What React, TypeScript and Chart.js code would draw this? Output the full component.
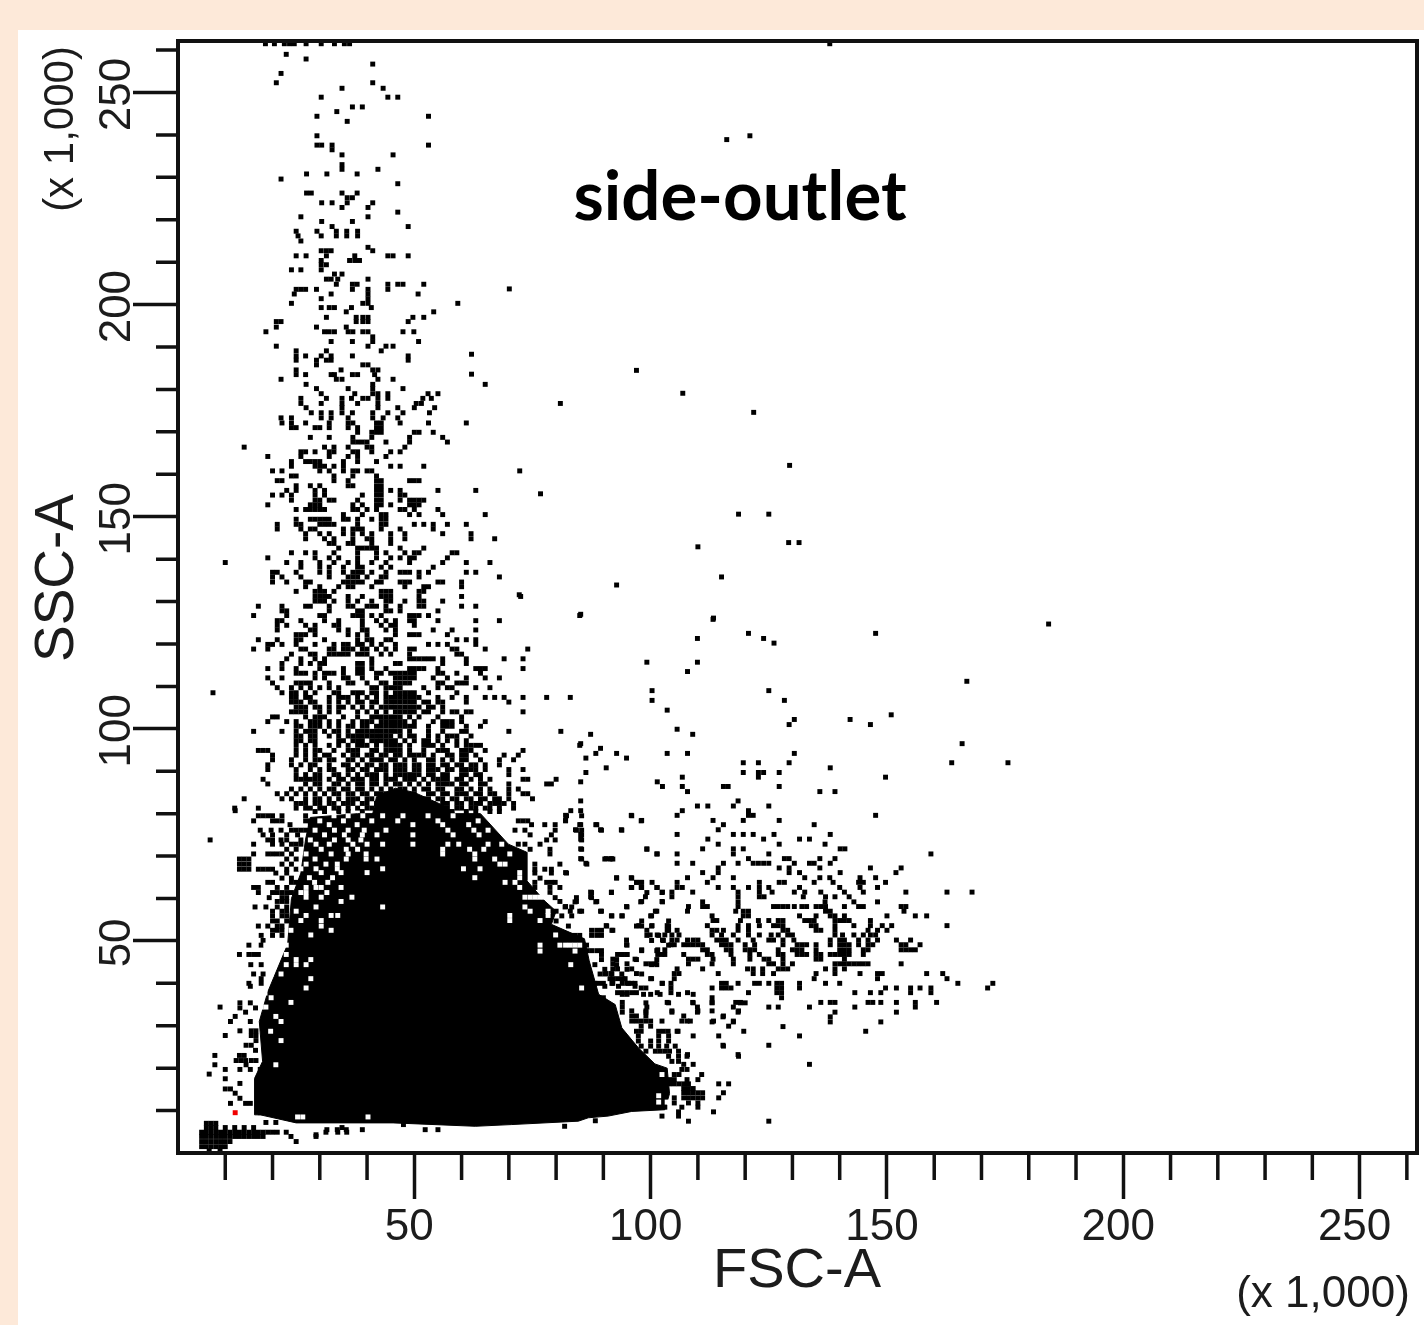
import React, { useRef, useEffect } from "react";
import { Chart, registerables } from "chart.js";

Chart.register(...registerables);

// FSC-A / SSC-A values in thousands
const axisMax = 262.144;
const majorTicks = [50, 100, 150, 200, 250];
const minorTicks = [10, 20, 30, 40, 60, 70, 80, 90, 110, 120, 130, 140, 160, 170, 180, 190, 210, 220, 230, 240, 260];

// outline of the saturated part of the main population [fsc, ssc]
const massOutline = [
  [16.2, 9], [16.2, 17.6], [17.9, 21.6], [17.2, 31], [19, 38], [23.2, 49.2], [24, 60], [26, 66],
  [27, 74], [28, 79.1], [38, 80], [64, 80], [69.9, 72.8], [73.8, 70.9], [73.8, 64.2], [77.6, 59.4], [80, 57],
  [79, 53.9], [86, 50.5], [87, 45.3], [89, 37.4], [92.5, 35], [93.9, 29.5], [97.4, 24.8], [100.9, 21], [103.5, 20], [104, 14],
  [103, 10.2], [96, 9.8], [91, 8.7], [86.8, 8.3], [84.7, 7.5], [70.5, 6.7], [62.9, 6.3], [45.5, 7.1], [25, 7.1], [17.4, 9],
  [16.2, 9],
];
const coreOutline = [
  [41, 79], [42, 84], [46, 86], [50, 85], [56, 82], [60, 79], [41, 79],
];

// rows of events: [ssc, fsc, fsc, ...]
const topPlume = [
  [261.5, 18.5, 20.4, 22.5, 23.6, 24.6, 27.1, 30.3, 33.1, 35.2, 36.3, 137.9],
  [259, 22.9], [257.9, 27.1], [256.7, 41.2], [254.5, 21.8], [252.3, 20.8, 41.2], [251, 34.7, 43.4],
  [248.9, 30.3, 44.4, 46.5], [246.6, 36.9, 39], [245.5, 33.6], [244.4, 29.4, 53], [243.2, 35.8],
  [239.8, 29.4, 121], [238.9, 116.1], [237.6, 29.4, 30.4, 32.6, 53], [236.5, 32.6], [235.3, 34.7, 45.5], [233, 34.7],
  [231.9, 34.7, 42.3], [230.8, 27.2, 31.5, 37.9], [229.6, 21.8], [228.5, 46.5], [226.3, 27.2, 28.2, 34.7, 37.9],
  [225.2, 35.8, 36.9], [224, 30.4, 32.6, 35.8, 41.2], [222.9, 34.7, 40.2], [221.8, 46.5], [220.7, 26, 40.2],
  [219.6, 30.4, 36.9], [218.4, 32.6, 48.7], [217.3, 25, 29.4, 33.5, 35.7, 38], [216.2, 25.4, 30.3, 33.5, 35.7, 38],
  [215, 26], [213.5, 40.2], [212.7, 30.3, 31.4, 32.4, 41.2], [211.5, 25, 27.1, 31.4, 37.4, 44.4, 45.5, 48.7],
  [210.4, 30.3, 36.3, 37.4, 38.4], [209.4, 30.3, 31.4], [208.2, 24, 26, 30.3], [207.2, 33.1, 34.7],
  [206, 31.4, 32.4, 33.8, 40.2], [204.8, 33.5, 36.9, 37.9, 44.4, 46.5, 47.6, 52], [203.7, 70.1],
  [203.6, 25, 26, 27, 29.3, 36.9, 40.2, 44.4], [202.5, 24.6, 32.4, 40.2, 50.8], [201.4, 30.3, 40.2],
  [200.3, 24, 39.1, 40.2, 59.2], [199.3, 30.3, 32, 33.1, 36.7, 40.9], [198.3, 35.6, 54.1],
  [197, 31.4, 37.7, 39.1, 40.2, 49.7, 52], [196, 20.8, 21.8, 37.7, 39.1, 40.2, 48.7], [194.7, 20.8, 29.3, 35.6],
  [193.6, 18.6, 31, 32, 33.1, 36, 37, 39.1, 40.2, 47.6, 49.9], [192.4, 41.2], [191.3, 32.4, 36.9, 41.2, 50.9],
  [190.2, 20.8, 40.2, 44, 45.5], [189.1, 25, 31.4, 43], [188.3, 62.1], [187.9, 25, 27, 30.3, 32.4, 36.9, 48.7],
  [186.9, 25, 29.3, 31.4, 32.4, 48.7], [185.8, 29.3, 39.1, 40.2], [184.6, 25, 34.5, 41.2, 42.3], [184.5, 97],
  [183.6, 62.1], [183.5, 25, 27, 32.4, 33.1, 36.9, 38, 41.6], [182.4, 21.8, 33.5, 34.7, 42.3, 45.5], [181.2, 27.1, 41.2, 65],
  [180.2, 29.3, 36, 41.2, 47.6], [179.1, 106.8], [179, 30.3, 37.4, 41.2, 42.3, 44.4, 52.9, 55],
  [177.9, 26, 31.4, 34.7, 36.7, 39.1, 40.2, 42.3, 44.4, 51.8, 53.6], [176.7, 26, 30.3, 34.7, 38, 42.3, 50.4, 51.5, 80.9],
  [175.7, 27.1, 34.7, 42.3, 46.5, 50, 54.3], [174.6, 121.8], [174.5, 28.2, 30.3, 32.4, 34.7, 36.9, 41.2, 44.4, 47.6, 53.2],
  [173.3, 21.8, 24, 30.3, 32.4, 36, 41.2, 43.4, 46.5],
];

const midPlume = [
  [172.1, 22, 24, 27, 32, 36, 37, 42, 43, 47, 53, 61], [171, 24, 25, 29, 30, 32, 36, 38, 42, 43], [169.9, 38, 41, 42, 43, 50, 51, 54],
  [168.7, 28, 32, 37, 41, 49, 56], [167.6, 37, 38, 39, 40, 44, 49, 57], [166.4, 14, 31, 33, 36, 40, 41, 48],
  [165.3, 26, 27, 29, 32, 33, 37, 38, 41, 45, 47], [164.2, 19, 26, 32, 36, 38, 44], [163, 24, 27, 28, 29, 30, 35, 38, 42],
  [162.1, 129.4], [161.9, 24, 29, 30, 31, 33, 35, 45, 47, 52], [160.8, 20, 22, 30, 32, 35, 37, 38, 40, 41, 72.3], [159.6, 24, 25, 33, 37, 42],
  [158.5, 21, 22, 33, 36, 42, 43, 49, 50, 51], [157.3, 25, 28, 30, 36, 37, 42, 43], [156.2, 23, 25, 29, 31, 42, 43, 45, 47, 55, 63],
  [155.4, 76.7], [155.1, 20, 22, 24, 29, 31, 39, 42, 43, 47, 48], [153.9, 24, 29, 30, 32, 33, 38, 42, 43, 47, 49, 50, 51, 52],
  [152.8, 19, 28, 29, 30, 37, 39, 42, 43, 45, 49, 50, 51], [151.7, 25, 27, 28, 29, 30, 31, 37, 38, 40, 42, 47, 48, 50, 55],
  [150.6, 118.6, 125], [150.5, 35, 39, 43, 44, 49, 51, 56, 65], [149.4, 25, 28, 29, 30, 31, 32, 35, 36, 38, 41, 43, 44],
  [148.2, 21, 25, 26, 30, 31, 32, 33, 38, 43, 44, 50, 52, 54, 57, 61], [147.1, 21, 26, 28, 29, 35, 37, 38, 39, 43, 47, 54],
  [146, 27, 30, 32, 35, 37, 39, 41, 45, 48, 56, 62], [144.8, 27, 31, 33, 37, 40, 41, 45, 48, 62, 67], [143.9, 129.2, 131.4],
  [143.7, 32, 33, 36, 37, 41, 45], [142.9, 110], [142.6, 34, 38, 39, 40, 41, 42, 47, 52], [141.5, 24, 27, 29, 33, 38, 42, 44, 48, 50, 51, 58, 59],
  [140.3, 19, 29, 32, 34, 38, 42, 45, 47, 49, 50, 57], [139.2, 10, 23, 26, 30, 33, 36, 38, 41, 44, 49, 56, 61, 66],
  [138.1, 26, 30, 32, 35, 38, 39, 43, 45, 54], [136.9, 20, 21, 25, 30, 32, 35, 37, 38, 39, 41, 44, 47, 48, 49, 51, 53, 61, 63],
  [135.8, 20, 22, 26, 32, 36, 37, 38, 40, 43, 44, 51, 68, 115], [134.6, 20, 23, 27, 28, 35, 36, 37, 38, 39, 42, 43, 47, 48, 49, 55, 56, 60],
  [133.9, 92.8], [133.5, 27, 30, 34, 36, 37, 41, 48, 52, 53, 60], [132.4, 25, 29, 30, 31, 33, 43, 44, 45, 51, 52],
  [131.6, 72.2], [131.2, 29, 30, 31, 32, 36, 39, 43, 44, 45, 51, 60, 72.5], [130.1, 29, 30, 31, 33, 36, 38, 41, 44, 45, 48, 51, 52, 56],
  [128.9, 17, 22, 27, 28, 32, 36, 37, 40, 41, 42, 44, 47, 51, 52, 60, 63], [127.8, 22, 23, 32, 38, 39, 44, 45, 47, 55],
  [127, 85.2], [126.7, 16, 23, 30, 31, 37, 38, 39, 41, 43, 49, 50, 51, 53, 85], [126.1, 113.3],
  [125.8, 113.2], [125.5, 21, 22, 26, 31, 34, 39, 42, 44, 46, 49, 50, 55, 63, 68], [124.7, 184.2],
  [124.4, 21, 23, 27, 29, 33, 34, 39, 43, 45, 46, 50], [123.3, 21, 28, 29, 34, 36, 39, 40, 44, 46, 54, 58, 63],
  [122.5, 120.7, 147.6], [122.2, 25, 26, 27, 29, 36, 38, 40, 46, 49, 50, 51, 57], [121.3, 109.9, 123.9],
  [121, 17, 21, 25, 26, 31, 38, 40, 41, 44, 45, 59, 61, 63], [120.2, 126.1], [119.9, 19, 20, 22, 25, 29, 33, 35, 36, 38, 39, 41, 43, 46, 53, 55, 57, 63],
  [118.8, 16, 19, 26, 27, 32, 33, 35, 36, 37, 39, 40, 42, 44, 46, 49, 50, 58, 59, 65, 74],
  [117.6, 24, 28, 29, 32, 33, 34, 35, 36, 38, 39, 40, 43, 45, 49, 59, 60], [116.5, 23, 26, 29, 31, 41, 49, 50, 51, 52, 53, 54, 56, 61, 69, 73],
  [115.7, 99.2, 109.9], [115.4, 22, 26, 28, 30, 31, 38, 39, 41, 46, 47, 56, 61],
  [114.2, 19, 22, 25, 30, 35, 38, 39, 41, 44, 49, 50, 51, 52, 55, 63, 64, 65, 73], [113.5, 107.8],
  [113.1, 25, 26, 27, 29, 31, 32, 33, 35, 38, 39, 42, 43, 45, 46, 47, 48, 49, 50, 55, 56, 59, 64],
  [112, 19, 22, 29, 31, 35, 36, 39, 42, 46, 47, 48, 49, 50, 54, 57, 61, 65, 68], [111.2, 166.9],
  [110.8, 20, 25, 26, 27, 28, 32, 36, 37, 40, 43, 44, 46, 47, 48, 49, 55, 56, 59, 60, 61], [109.7, 21, 24, 26, 28, 30, 32, 34, 41, 42, 44, 45, 46, 47, 52, 55, 57, 58, 63, 66],
  [109, 100.3, 125], [108.5, 7.4, 22, 24, 25, 27, 29, 34, 37, 38, 39, 42, 44, 47, 48, 49, 53, 59],
  [107.4, 24, 25, 28, 32, 35, 36, 40, 42, 45, 46, 47, 48, 49, 50, 55, 58, 61, 65, 67, 69, 73, 78, 83],
  [106.7, 100.3, 128.3], [106.3, 24, 25, 26, 29, 32, 36, 39, 41, 42, 45, 46, 47, 48, 49, 50, 53, 56, 61, 70],
  [105.1, 25, 26, 27, 30, 32, 34, 37, 39, 43, 45, 46, 47, 48, 49, 50, 53, 56],
  [104.4, 103.5], [104, 24, 25, 26, 27, 32, 40, 42, 46, 47, 48, 49, 50, 53, 58, 59, 61, 62, 73], [103.3, 150.9],
  [102.8, 20, 21, 29, 30, 31, 41, 43, 44, 45, 46, 47, 51], [102.2, 130.4, 142.2],
  [101.7, 19, 23, 25, 29, 30, 32, 34, 39, 40, 41, 44, 45, 46, 47, 48, 56, 57, 58, 65], [101, 129.3, 146.5],
  [100.6, 25, 26, 28, 30, 32, 36, 39, 40, 43, 44, 45, 46, 47, 48, 49, 56, 57, 58, 64], [99.9, 105.6],
  [99.4, 16, 22, 25, 27, 29, 31, 34, 36, 39, 40, 41, 42, 43, 44, 45, 46, 47, 61, 70, 81], [98.7, 87.3, 108.9],
  [98.3, 25, 26, 29, 32, 36, 38, 39, 40, 41, 42, 43, 44, 45, 49, 50, 55, 58, 59, 62],
  [97.2, 25, 26, 29, 34, 38, 39, 41, 42, 43, 44, 45, 46, 50, 52, 53, 57, 61], [96.5, 85.2, 165.9],
  [96.1, 25, 27, 32, 36, 39, 40, 44, 45, 46, 47, 52, 53, 54, 61, 62, 63, 64, 85], [95.4, 89.4],
  [94.9, 17, 18, 19, 25, 27, 30, 36, 37, 38, 42, 44, 45, 46, 47, 55, 56, 57, 61, 62, 73], [94.2, 88.4, 92.8, 103.5, 107.8, 130.4],
  [93.8, 20, 25, 29, 32, 35, 38, 41, 43, 46, 47, 50, 51, 52, 57, 58, 60, 61, 69, 72], [93.1, 86.3, 94.9],
  [92.7, 20, 24, 27, 30, 33, 37, 39, 42, 43, 46, 48, 53, 54, 58, 61, 68, 71], [92, 119.6, 122.8, 129.3, 163.7, 175.6],
  [91.5, 19, 24, 26, 29, 32, 36, 38, 41, 44, 46, 47, 48, 51, 54, 56, 57, 60, 63, 65, 68], [90.8, 90.6, 138],
  [90.4, 19, 25, 28, 32, 33, 37, 40, 42, 44, 46, 48, 51, 53, 55, 57, 60, 61, 63, 70, 73], [89.7, 86.3, 119.6, 122.8, 123.9, 127.2],
  [89.2, 25, 27, 30, 33, 36, 38, 41, 42, 47, 48, 49, 51, 54, 57, 61, 63, 70], [88.6, 106.7, 122.8, 149.7],
  [88.1, 18, 25, 26, 27, 28, 29, 30, 34, 37, 39, 42, 44, 46, 48, 49, 50, 54, 55, 57, 60, 64, 73, 74, 80],
  [87.5, 85.2, 101.4], [87, 19, 27, 30, 33, 36, 39, 41, 44, 47, 51, 55, 57, 58, 61, 65, 70, 78, 79],
  [86.4, 102.5, 106.7, 115.4, 116.4, 127.2], [85.8, 24, 26, 30, 33, 36, 38, 41, 45, 48, 50, 53, 56, 60, 64, 70, 72],
  [85.2, 107.8, 135.8, 139], [84.7, 21, 23, 25, 27, 31, 34, 37, 40, 42, 44, 46, 48, 50, 54, 57, 60, 61, 64, 66, 70, 73, 74],
  [83.5, 14, 22, 24, 27, 30, 32, 36, 38, 41, 43, 46, 50, 53, 56, 59, 62, 64, 68, 70, 75], [83, 85.2, 118.5],
  [82.4, 25, 26, 27, 30, 32, 35, 37, 40, 42, 45, 48, 52, 54, 57, 60, 62, 64, 67, 69, 71], [81.8, 109.9, 112.1, 117.5, 125],
  [81.3, 12, 17, 25, 28, 31, 34, 38, 41, 44, 47, 51, 54, 57, 60, 63, 66, 71], [80.7, 12.1, 83.1, 85.2, 106.7, 120.7],
];

// the mottled base of the plume, just over the saturated part
const plumeBase = [
  [108.5, 33, 41, 46, 50], [107.4, 27, 34, 38, 44, 51], [106.3, 28, 34, 38, 44, 52, 55], [105.1, 29, 35, 41, 44, 51, 54],
  [104, 30, 34, 38, 44, 52, 56], [102.8, 27, 35, 38, 42, 49, 55, 60], [101.7, 28, 37, 43, 50, 54, 60], [100.6, 29, 34, 37, 42, 50, 53, 61],
  [99.4, 28, 33, 38, 49, 53, 56, 60], [98.3, 28, 34, 37, 47, 53, 57], [97.2, 28, 35, 37, 48, 55, 59], [96.1, 29, 34, 38, 42, 49, 56, 59],
  [94.9, 29, 33, 41, 49, 52, 60, 65], [93.8, 27, 31, 37, 40, 44, 49, 54, 63], [92.7, 29, 32, 36, 41, 45, 50, 56, 60, 64],
  [91.5, 28, 35, 40, 43, 50, 53, 59, 62], [90.4, 30, 36, 39, 43, 47, 50, 54, 58, 62, 65], [89.2, 29, 34, 40, 44, 46, 50, 53, 56, 60, 64],
  [88.1, 32, 35, 38, 41, 45, 52, 56, 59, 62, 66], [87, 29, 34, 38, 42, 46, 49, 53, 56, 60, 64], [85.8, 28, 32, 35, 39, 43, 47, 52, 55, 59, 62, 66],
  [84.7, 29, 33, 36, 39, 43, 47, 53, 56, 59, 63, 67], [83.5, 29, 34, 37, 40, 44, 48, 52, 55, 58, 61, 65, 67],
  [82.4, 29, 33, 36, 39, 43, 47, 50, 53, 56, 59, 63, 66, 68], [81.3, 27, 30, 33, 36, 40, 43, 46, 49, 53, 56, 59, 62, 65, 68],
  [80.5, 29, 31, 34, 36, 39, 43, 46, 49, 52, 55, 58, 61, 63, 66, 68],
];

const sideCluster = [
  [79.6, 82, 95.9, 105.6, 120.7, 121.7, 147.6], [78.4, 82, 98.1, 113.2, 119.6, 127.2], [77.4, 85.2, 88.4, 115.4, 134.6],
  [76.2, 84.1, 89.4, 93.8, 114.3], [75.1, 85.2, 105.6, 117.5, 119.6, 121.7, 126.1, 138], [74, 85.2, 112.1, 123.9, 131.5, 133.6],
  [72.8, 114.3, 127.2, 136.9], [71.7, 85.2, 99.2, 111, 117.5, 119.6, 140.1, 141.1], [70.5, 101.4, 105.6, 117.5, 125, 159.3],
  [69.4, 85.2, 90.6, 91.7, 120.7, 128.3, 129.3, 135.8, 139], [68.3, 86.3, 105.6, 108.9, 115.4, 118.5, 121.7, 122.8, 123.9, 125, 130.4, 133.6, 134.6, 138],
  [67.2, 114.3, 127.2, 129.3, 135.8, 146.5, 153], [66.1, 82, 111, 114.3, 129.3, 131.5, 140.1, 151.9],
  [64.9, 92.8, 95.9, 107.8, 113.2, 117.5, 132.6, 135.8, 137.9, 144.3, 147.6], [63.8, 97, 98.1, 100.3, 105.6, 112, 123, 127.2, 128.3, 134.6, 138.6, 144, 145, 149.7],
  [62.6, 95.9, 98.1, 101.4, 105.6, 106.7, 114.3, 117.5, 120.7, 123, 125, 131.5, 140, 144.3, 148],
  [61.5, 87.3, 91.7, 102.5, 104.5, 108.9, 118.5, 123, 125.7, 130.4, 132.6, 136, 141, 145, 154, 162.7, 168],
  [60.4, 87.3, 98.9, 104.5, 118.5, 123, 124, 132.3, 137, 139, 142], [59.2, 84, 88.4, 97.9, 102.5, 111, 118.5, 136.9, 143, 148],
  [58.1, 82, 94.9, 108, 111, 112, 118.5, 126, 127, 128, 129, 130.4, 132, 133, 135, 136, 137, 141, 144, 145, 153, 154],
  [57, 85, 89.4, 101, 107.8, 118, 119.6, 120.7, 137, 138, 153.6], [55.9, 91.7, 94, 100, 113, 119.6, 120.7, 131.5, 135, 138, 139, 141, 150, 156, 158.4],
  [54.8, 113.2, 114, 119, 122.8, 125, 127, 128, 132.6, 133.6, 134.6, 139, 140, 141, 142, 146.5],
  [53.6, 90.6, 97.5, 100.3, 103.5, 112, 118.5, 120.7, 123, 126, 127, 128, 134, 135, 139, 143, 146.5, 149, 151, 162.7],
  [52.5, 92, 99.2, 103.5, 105.6, 113, 114, 115.4, 118.5, 120.7, 128, 129, 135, 136, 139, 146, 148, 150],
  [51.4, 99.9, 101.4, 103, 104.5, 106, 113, 115, 117.5, 120.7, 123, 125.5, 127, 129, 130, 139, 140.6, 143, 145, 146.5, 147.6],
  [50.2, 94.9, 102.5, 104.5, 105.6, 107.8, 109, 110, 114, 115, 116, 118.5, 121.7, 125, 126, 128, 130.3, 138, 140, 141, 144, 146, 148, 152, 155],
  [49.1, 94.9, 104.3, 105, 107, 108, 109, 110, 111, 115, 116, 117, 120, 122, 128, 131, 132, 133, 135, 138, 140, 141, 142, 144, 146, 147, 153, 154, 157],
  [47.9, 98.1, 101.5, 103, 111, 112, 116, 117, 120, 121, 122, 127, 130, 131, 132, 135, 140, 141, 142, 145, 146, 153, 154, 155, 156],
  [46.8, 93, 94, 95, 101.5, 103, 107, 112, 113, 117, 121, 123, 127, 128, 131, 132, 133, 135, 136, 138, 139, 140, 141, 142, 145],
  [45.7, 92, 96.7, 108, 109, 110, 113.2, 117.5, 121, 124, 125, 128, 135, 136, 141],
  [44.6, 92, 95, 99, 100, 101, 108, 113, 117.5, 125, 126, 128, 130, 139, 140, 141, 142, 143, 144, 145, 146, 153],
  [43.4, 92, 93, 96, 105.6, 111, 120.5, 121.7, 123.7, 127, 128, 129, 137, 139, 141],
  [42.3, 90.6, 91.7, 97, 105, 106, 114.3, 121.7, 123.7, 126, 135, 139, 144.3, 148, 149, 158.4, 161.8],
  [41.1, 92, 93, 94, 100, 105, 134.6, 148, 162.7], [40, 92, 94, 95, 96, 102.5, 104.3, 115, 116, 118.5, 122, 123, 125, 126.7, 127.7, 131.5, 137, 140, 165, 172.4],
  [38.9, 98, 99, 104.3, 113, 115, 116, 117, 126.7, 127.7, 131.5, 149.7, 152, 155, 157, 159.3, 171.3],
  [37.8, 93, 94, 95, 96, 97, 101.4, 104.3, 107.8, 120.7, 126.7, 127.7, 143.2, 146.5, 148.7, 155, 159.3],
  [37.4, 94, 95, 98.5, 100, 102, 105.9, 109], [36.6, 89, 90, 113, 127.7], [35.5, 94, 103.5, 108.9, 113, 118, 119, 136, 138, 139, 146, 147, 148.7, 152, 156, 160.5],
  [35.4, 99, 103.8, 109, 113, 119, 120], [34.4, 94, 99.2, 109.9, 117.5, 125, 127, 133.6, 143.2, 156], [33.5, 96, 99, 104.5, 110, 113, 118.6],
  [33.2, 94, 99, 104.5, 109.9, 118.5, 139, 152], [32.3, 96, 97, 99, 107, 115.4], [32.1, 115.3, 138],
  [31.1, 96, 97, 98, 99, 100, 102.4, 106.6, 107.7, 108.4, 113.3, 117.5], [30.9, 113, 117.5, 138, 148.7],
  [29.9, 98, 100, 116.5], [29.8, 128], [28.7, 97, 98, 101.7, 102.7, 103.7, 105.8, 105.6, 119.7, 145.5], [27.6, 97.4, 101.7, 103.8, 109, 114.4, 131.5],
  [26.4, 97.4, 100, 101.7, 103.8], [25.4, 115.3, 125], [25.2, 98, 100, 101.7, 103.4, 105.2, 115.4], [24, 99, 101, 102, 103, 104, 105.9],
  [23.2, 107.8, 118.5], [22.8, 103.8, 105.9, 107.7, 118.6], [21.6, 104.5, 105.9], [20.9, 107, 109, 133.6], [19.7, 106.6, 107.7],
  [18.5, 105, 106, 110.8], [17.3, 104, 105, 107.7, 110], [16.3, 102, 103, 104, 105, 106, 107, 108, 114.4, 116.5], [15.2, 107, 108, 109],
  [14.2, 107, 108, 109, 110, 111, 115.4], [13, 105, 107, 108, 109, 110, 111, 114.4], [11.8, 105, 108, 110], [10.8, 103, 106.6, 110],
  [9.7, 105.9, 113.3], [8.7, 102.4, 105.9], [7.5, 108, 125],
];

// right and left fringe of the saturated part
const massFringe = [
  [79.5, 17, 18, 19, 20, 22, 27, 82.2, 85.4, 96], [78.3, 16, 20, 21, 22, 27, 28, 72, 73, 74, 82, 98], [77.4, 23.7, 28, 74.8, 77.6, 79.8, 85, 88.6],
  [76.1, 17.4, 19.7, 21.8, 24, 25, 26, 27, 71.3, 73.4, 79.8, 84.3, 85.4, 89.6, 93.9], [75, 18, 20, 23, 25.3, 74.5, 79, 85.4],
  [73.8, 19, 20, 21.8, 23, 26, 78, 79.8, 85.4, 6.8], [72.8, 16, 20, 22, 24, 25, 26, 72, 73.4, 76.6], [71.6, 23, 25, 74.5, 78.7, 85.4, 99.2],
  [70.5, 16, 19, 20, 21, 22, 24, 78.7, 101.3], [69.3, 13, 14, 15, 23, 25, 85.4, 90.3, 91.4, 92], [68.1, 13, 14, 15, 22, 24, 75.5, 80.8, 86.5], [66.9, 13, 14, 15, 17, 18, 19, 20, 23, 25, 75.5, 77.6, 79],
  [66, 20.7, 23, 75.5, 79, 82.2], [64.8, 22, 24, 76.6, 92.8, 96], [63.8, 19, 20, 24, 25, 75.5, 78, 79, 79.8, 97, 98], [62.6, 16, 17, 21, 23, 75.5, 78.7, 80.8, 96, 98, 101.3],
  [61.4, 17, 20, 21, 22, 23, 24, 78.7, 87.5, 91.7, 99.2, 102.4], [60.2, 19.3, 22, 23, 79.8, 84.3, 87.5], [59.3, 21, 22, 23, 80.8, 84.3, 88.6, 98.1, 102.4],
  [58, 16.3, 18.6, 21, 23, 81.9, 83.3, 95], [57, 20, 22, 23, 80, 83, 85.4, 89.6, 101.3], [55.9, 20, 22, 23, 81.2, 83.3, 91.8, 93.9, 100.2], [54.7, 20, 21, 23, 80, 98.1, 103.8],
  [53.5, 17, 19, 21, 22, 82.6, 90.7, 97, 98.1, 100.2, 103.8], [52.5, 20, 21, 22, 87.5, 88.6, 89.6, 91.8, 103.8], [51.3, 17.6, 20, 22, 81, 82, 83, 84, 85, 87.5, 88.6, 89.6, 99.2, 101.7],
  [50.1, 18, 84.3, 85.4, 100.2, 102.7], [49, 15, 17.6, 86.5, 95, 103.8], [47.7, 86.5, 87.5, 88.6, 89.6, 98.1, 101.3], [46.8, 13, 15, 16, 17, 89.6, 94, 95, 102.4],
  [45.6, 89.6, 92.8, 97, 101.3], [44.4, 15.4, 17.6, 88.2, 92.8, 100.2, 101.3], [43.3, 90.3, 95], [42.2, 16, 18, 89.3, 90.3, 91.8, 93.9, 98.1],
  [41.1, 17.6, 91.4, 94.6, 100.2], [40, 15, 17.6, 88.2, 89, 90, 91.8, 95.3, 96.7, 102.4], [39.3, 15.3, 90.3, 93.2, 96.7],
  [35.4, 13.1, 15.3], [34.4, 8.9], [34.2, 13.1, 16.4], [33.2, 14.3], [32.2, 12.1], [31, 11.1, 15.3], [28.8, 13.1, 15.5, 16.5], [27.7, 10, 15.5, 16.5],
  [26.5, 16.5], [25.4, 14.4, 15.5], [24.2, 16.4], [23, 7.8, 13, 14], [21.8, 12.3, 13.3, 14.3, 15.5, 16.5], [20.8, 7.8, 14.4], [19.7, 10, 13.1, 15.3, 17.4],
  [18.6, 6.6], [17.5, 10], [16.4, 13.1], [15.1, 10, 11.1], [14.1, 12.1], [12.9, 13.1], [11.7, 11.1, 14.3, 15.3], [9.5, 17.4],
];

// debris down in the corner, and the row under the main population
const debris = [
  [7.2, 18.6, 20.7], [7, 6, 7, 8], [7.6, 88.3], [6.7, 47.7], [6.3, 81.8],
  [6, 6, 7, 8, 10, 12, 14, 16, 34.7], [5.5, 31.5, 33.7, 35.6, 39, 52.3, 55],
  [4.9, 5, 6, 7, 8, 9, 10, 11, 12, 13, 14, 15, 16, 17, 18, 19, 20, 21, 22.9, 31.3, 33.8, 35.7],
  [4.3, 29.2], [3.9, 5, 6, 7, 8, 9, 10, 11, 12, 13, 14, 15, 16, 17, 18, 23.9, 29.2],
  [2.7, 5, 6, 7, 8, 9, 10, 11, 25], [1.5, 5, 6, 7, 8, 9, 10], [0.5, 6.6, 8.9],
];

// unfilled spots inside the saturated part
const massGaps = [
  [79.5, 33, 36, 39.1, 43.3, 47.6, 52.9, 58.2], [78.3, 30, 35, 41, 46.5, 55, 63.5, 68.5], [77.4, 32, 37.9, 49.7, 56, 61.5],
  [76.1, 29, 33.1, 36, 39.4, 44, 57.1, 62.6, 65.6], [75, 31, 35.2, 39, 42.1, 49.7, 58.2, 63.7], [73.8, 28, 33.1, 36, 38.7],
  [72.8, 29.2, 32, 37, 40, 43.3, 49.7, 57.1, 59.4, 65.6, 68.5], [71.6, 30.3, 35.6, 38, 56, 61.7, 64.7],
  [70.5, 27.1, 32.4, 36, 39.8, 56, 62.8, 70.2], [69.3, 29, 35.6, 39.8, 42.1, 62.8, 67], [68.1, 27.1, 31.3, 33.7, 68.1, 69.2],
  [67, 26, 29.2, 33.7, 43.3, 60.4, 63.9], [66.1, 30.3, 34.5, 40, 72.3], [64.9, 27.8, 32.7, 62.8, 72.3], [63.8, 28.9, 31.7, 69.2, 71.3],
  [62.6, 27.1, 29.2, 30.3, 34.5, 72.3], [61.4, 26, 27.1, 31.5], [60.3, 27.1, 30.3, 36.8, 73.4, 74.5, 75.5, 76.5, 77.5, 78.3], [59.3, 34.5],
  [58, 29.2, 43.3, 73.4], [57, 25, 74.5, 78.3], [56, 27.1, 32.4, 33.8, 70.2, 78.3], [54.8, 26, 30.3, 70.2, 76.6],
  [53.5, 30.3], [52.5, 23.9, 32.4], [51.4, 28.1, 79.9], [50.1, 19.7, 21.8], [49, 18.6, 20.7, 22.9, 76.6, 80.8, 82, 83, 84, 85, 87.5, 88.6],
  [47.6, 76.6, 84], [46.8, 20.7, 22.9], [45.6, 25, 28.1], [44.4, 22.9, 25, 27.1, 83.1], [42.2, 19.7, 21.8], [41.1, 28.1], [38.9, 27.1, 85.4],
  [37.7, 18.4], [36.6, 19.7], [35.5, 23.9], [34.4, 17.6, 18.6], [32.2, 20.7], [31, 21.8], [28.7, 19.6], [26.5, 21.8], [20.8, 20.7],
  [18.5, 102.4], [13.5, 101.7], [12, 101.7, 103.5], [8.5, 25.3, 26.4, 40.2],
];

const redEvents = [[9.5, 12.1]];

// tick and axis texts
const xTickLabels = ["50", "100", "150", "200", "250"];
const yTickLabels = ["50", "100", "150", "200", "250"];
const xTitle = "FSC-A";
const yTitle = "SSC-A";
const scaleNote = "(x 1,000)";
const panelTitle = "side-outlet";

const toPoints = (rows: number[][]) =>
  rows.flatMap(([y, ...xs]) => xs.map((x) => ({ x, y })));
const toOutline = (pts: number[][]) => pts.map(([x, y]) => ({ x, y }));

const INK = "#1c1c1c";
const TICK_FONT = '44px "Liberation Sans"';

function drawText(ctx, text, x, y, font, rotate = false, color = INK) {
  ctx.save();
  ctx.translate(x, y);
  if (rotate) ctx.rotate(-Math.PI / 2);
  ctx.font = font;
  ctx.fillStyle = color;
  ctx.textAlign = "center";
  ctx.textBaseline = "middle";
  ctx.fillText(text, 0, 0);
  ctx.restore();
}

// frame, short ticks and the texts Chart.js can't rotate or place
const plotDecor = {
  id: "plotDecor",
  afterDraw(chart) {
    const { ctx, chartArea: a, scales } = chart;
    ctx.save();
    ctx.strokeStyle = "#111";
    ctx.lineWidth = 4;
    ctx.strokeRect(a.left, a.top, a.right - a.left, a.bottom - a.top);
    ctx.lineWidth = 3.5;
    ctx.beginPath();
    minorTicks.forEach((v) => {
      const px = scales.x.getPixelForValue(v);
      ctx.moveTo(px, a.bottom);
      ctx.lineTo(px, a.bottom + 27);
      const py = scales.y.getPixelForValue(v);
      ctx.moveTo(a.left, py);
      ctx.lineTo(a.left - 22, py);
    });
    ctx.stroke();
    ctx.restore();

    majorTicks.forEach((v, i) => {
      drawText(ctx, yTickLabels[i], 118, scales.y.getPixelForValue(v) + 2, TICK_FONT, true);
    });
    drawText(ctx, xTitle, 797, 1272, '56px "Liberation Sans"');
    drawText(ctx, yTitle, 58, 578, '55px "Liberation Sans"', true);
    drawText(ctx, scaleNote, 1323, 1295, TICK_FONT);
    drawText(ctx, scaleNote, 61, 129, '42px "Liberation Sans"', true);
    drawText(ctx, panelTitle, 740, 198, "bold 69px Lato", false, "#000");
  },
};

function eventSet(label: string, rows: number[][], color = "#000") {
  return {
    label,
    data: toPoints(rows),
    showLine: false,
    pointStyle: "rect",
    pointRadius: 3.5,
    pointBorderWidth: 0,
    pointBackgroundColor: color,
  };
}

function massSet(label: string, pts: number[][]) {
  return {
    label,
    data: toOutline(pts),
    showLine: true,
    fill: "shape",
    tension: 0,
    borderColor: "#000",
    borderWidth: 1,
    backgroundColor: "#000",
    pointRadius: 0,
  };
}

export default function App() {
  const chartRef = useRef<HTMLCanvasElement | null>(null);
  useEffect(() => {
    if (!chartRef.current) return;
    document.body.style.margin = "0";
    const chart = new Chart(chartRef.current, {
      type: "scatter",
      data: {
        datasets: [
          eventSet("red", redEvents, "#f00000"),
          eventSet("gaps", massGaps, "#fff"),
          eventSet("top plume", topPlume),
          eventSet("mid plume", midPlume),
          eventSet("plume base", plumeBase),
          eventSet("side cluster", sideCluster),
          eventSet("fringe", massFringe),
          eventSet("debris", debris),
          massSet("core", coreOutline),
          massSet("mass", massOutline),
        ],
      },
      plugins: [plotDecor],
      options: {
        responsive: false,
        animation: false,
        layout: { padding: { top: 41, right: 7 } },
        plugins: { legend: { display: false }, tooltip: { enabled: false } },
        scales: {
          x: {
            type: "linear",
            min: 0,
            max: axisMax,
            afterBuildTicks: (axis) => {
              axis.ticks = majorTicks.map((value) => ({ value }));
            },
            afterFit: (axis) => {
              axis.height = 172;
            },
            border: { color: "#111", width: 4 },
            grid: { drawOnChartArea: false, tickLength: 46, tickColor: "#111", tickWidth: 3.5 },
            ticks: {
              callback: (value) => xTickLabels[majorTicks.indexOf(value)],
              color: INK,
              font: { family: "Liberation Sans", size: 44 },
              padding: 2,
              labelOffset: -5,
              maxRotation: 0,
              autoSkip: false,
            },
          },
          y: {
            type: "linear",
            min: 0,
            max: axisMax,
            afterBuildTicks: (axis) => {
              axis.ticks = majorTicks.map((value) => ({ value }));
            },
            afterFit: (axis) => {
              axis.width = 178;
            },
            border: { color: "#111", width: 4 },
            grid: { drawOnChartArea: false, tickLength: 45, tickColor: "#111", tickWidth: 3.5 },
            ticks: { display: false },
          },
        },
      },
    });
    return () => chart.destroy();
  }, []);

  return (
    <div style={{ position: "relative", width: 1424, height: 1325, background: "#fde9d9", overflow: "hidden" }}>
      <div style={{ position: "absolute", left: 18, top: 30, width: 1406, height: 1295, background: "#fff" }} />
      <canvas ref={chartRef} width={1424} height={1325} style={{ position: "absolute", left: 0, top: 0 }} />
    </div>
  );
}
